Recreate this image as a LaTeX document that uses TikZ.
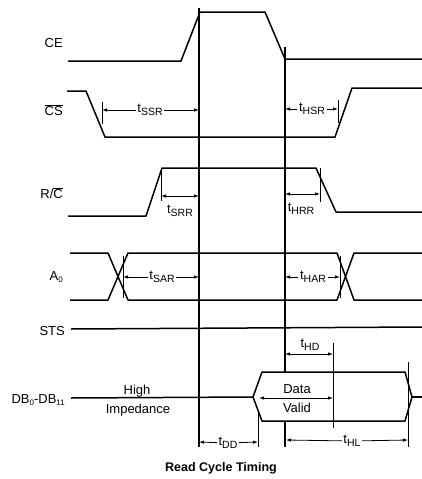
\documentclass[tikz,border=0pt]{standalone}
\usepackage{fontspec}
\setmainfont{Liberation Sans}
\usetikzlibrary{arrows.meta}
\newcommand\tsub[1]{t\raisebox{-2.8pt}{\fontsize{10.5}{11}\selectfont #1}}
\begin{document}
\begin{tikzpicture}[x=1pt,y=-1pt,
  sig/.style={line width=1.5pt, line join=round},
  vref/.style={line width=1.1pt},
  tickln/.style={line width=0.8pt},
  dimar/.style={line width=0.8pt, -{Latex[length=5pt,width=3.5pt]}},
  dimboth/.style={line width=0.8pt, {Latex[length=5pt,width=3.5pt]}-{Latex[length=5pt,width=3.5pt]}},
  siglabel/.style={anchor=east, font=\fontsize{13}{14}\selectfont, inner sep=0pt},
  tlabel/.style={font=\fontsize{13}{14}\selectfont, inner sep=1.5pt},
  txt/.style={font=\fontsize{13}{14}\selectfont, inner sep=0pt}]
\useasboundingbox (0,0) rectangle (422,479);

% signal names
\node[siglabel] (lce) at (63,43) {CE};
\node[siglabel] (lcs) at (63,110) {$\overline{\hbox{CS}}$};
\node[siglabel] (lrc) at (63,193) {R/$\overline{\hbox{C}}$};
\node[siglabel] (la0) at (63,277) {A\raisebox{-2pt}{\fontsize{8}{9}\selectfont 0}};
\node[siglabel] (lsts) at (65,331) {STS};
\node[siglabel] (ldb) at (65,400) {DB\raisebox{-2pt}{\fontsize{8}{9}\selectfont 0}-DB\raisebox{-2pt}{\fontsize{8}{9}\selectfont 11}};

% waveforms
\draw[sig] (68,61) -- (181,61) -- (200,12) -- (265,12) -- (285,59) -- (422,59);
\draw[sig] (67,91) -- (86,91) -- (105,137) -- (335,137) -- (352,88) -- (422,88);
\draw[sig] (68,216) -- (146,216) -- (162,168) -- (316,168) -- (336,212) -- (422,212);
\draw[sig] (70,253) -- (108,253) -- (128,300) -- (337,300) -- (354,253) -- (422,253);
\draw[sig] (70,300) -- (108,300) -- (128,253) -- (337,253) -- (354,300) -- (422,300);
\draw[sig] (71,329) -- (422,327);
\draw[sig] (71,398) -- (253,397);
\draw[sig] (253,397) -- (262,372) -- (405,372) -- (412,397) -- (405,421) -- (262,421) -- cycle;
\draw[sig] (412,397) -- (422,397);

% reference lines
\draw[vref] (199,8) -- (199,447);
\draw[vref] (285,47) -- (285,372);
\draw[vref] (285,421) -- (285,447);

% ticks
\draw[tickln] (102,102) -- (102,124);
\draw[tickln] (338,100) -- (338,123);
\draw[tickln] (161,169) -- (161,201);
\draw[tickln] (320,168) -- (320,202);
\draw[tickln] (123,256) -- (123,298);
\draw[tickln] (340,256) -- (340,298);
\draw[tickln] (333,343) -- (333,428);
\draw[tickln] (258,413) -- (258,447);
\draw[tickln] (408,362) -- (408,447);

% tick coordinates
\coordinate (ssrA) at (102,110); \coordinate (ssrB) at (199,110);
\coordinate (hsrA) at (285,109); \coordinate (hsrB) at (338,109);
\coordinate (srrA) at (161,196); \coordinate (srrB) at (199,196);
\coordinate (hrrA) at (285,194); \coordinate (hrrB) at (320,194);
\coordinate (sarA) at (123,277); \coordinate (sarB) at (199,277);
\coordinate (harA) at (285,277); \coordinate (harB) at (340,277);
\coordinate (hdA) at (285,354); \coordinate (hdB) at (333,354);
\coordinate (dvA) at (259,398); \coordinate (dvB) at (333,398);
\coordinate (ddA) at (199,442); \coordinate (ddB) at (258,442);
\coordinate (hlA) at (286,440); \coordinate (hlB) at (408,440);

% timing labels
\node[tlabel] (ssr) at (150,110) {\tsub{SSR}};
\draw[dimar] (ssr) -- (ssrA); \draw[dimar] (ssr) -- (ssrB);
\node[tlabel] (hsr) at (312,109) {\tsub{HSR}};
\draw[dimar] (hsr) -- (hsrA); \draw[dimar] (hsr) -- (hsrB);
\draw[dimboth] (srrA) -- (srrB);
\node[tlabel] (srr) at (180,211) {\tsub{SRR}};
\draw[dimboth] (hrrA) -- (hrrB);
\node[tlabel] (hrr) at (301,209) {\tsub{HRR}};
\node[tlabel] (sar) at (162,277) {\tsub{SAR}};
\draw[dimar] (sar) -- (sarA); \draw[dimar] (sar) -- (sarB);
\node[tlabel] (har) at (313,277) {\tsub{HAR}};
\draw[dimar] (har) -- (harA); \draw[dimar] (har) -- (harB);
\node[tlabel] (hd) at (310,345) {\tsub{HD}};
\draw[dimboth] (hdA) -- (hdB);
\draw[dimboth] (dvA) -- (dvB);
\node[txt] (data) at (297,389) {Data};
\node[txt] (valid) at (297,408) {Valid};
\node[tlabel] (dd) at (228,443) {\tsub{DD}};
\draw[dimar] (dd) -- (ddA); \draw[dimar] (dd) -- (ddB);
\node[tlabel] (hl) at (352,441) {\tsub{HL}};
\draw[dimar] (hl) -- (hlA); \draw[dimar] (hl) -- (hlB);

\node[txt] (high) at (137,391) {High};
\node[txt] (imp) at (138,410) {Impedance};

\node[font=\bfseries\fontsize{12.5}{14}\selectfont, inner sep=0pt] (cap) at (221,468) {Read Cycle Timing};
\end{tikzpicture}
\end{document}
